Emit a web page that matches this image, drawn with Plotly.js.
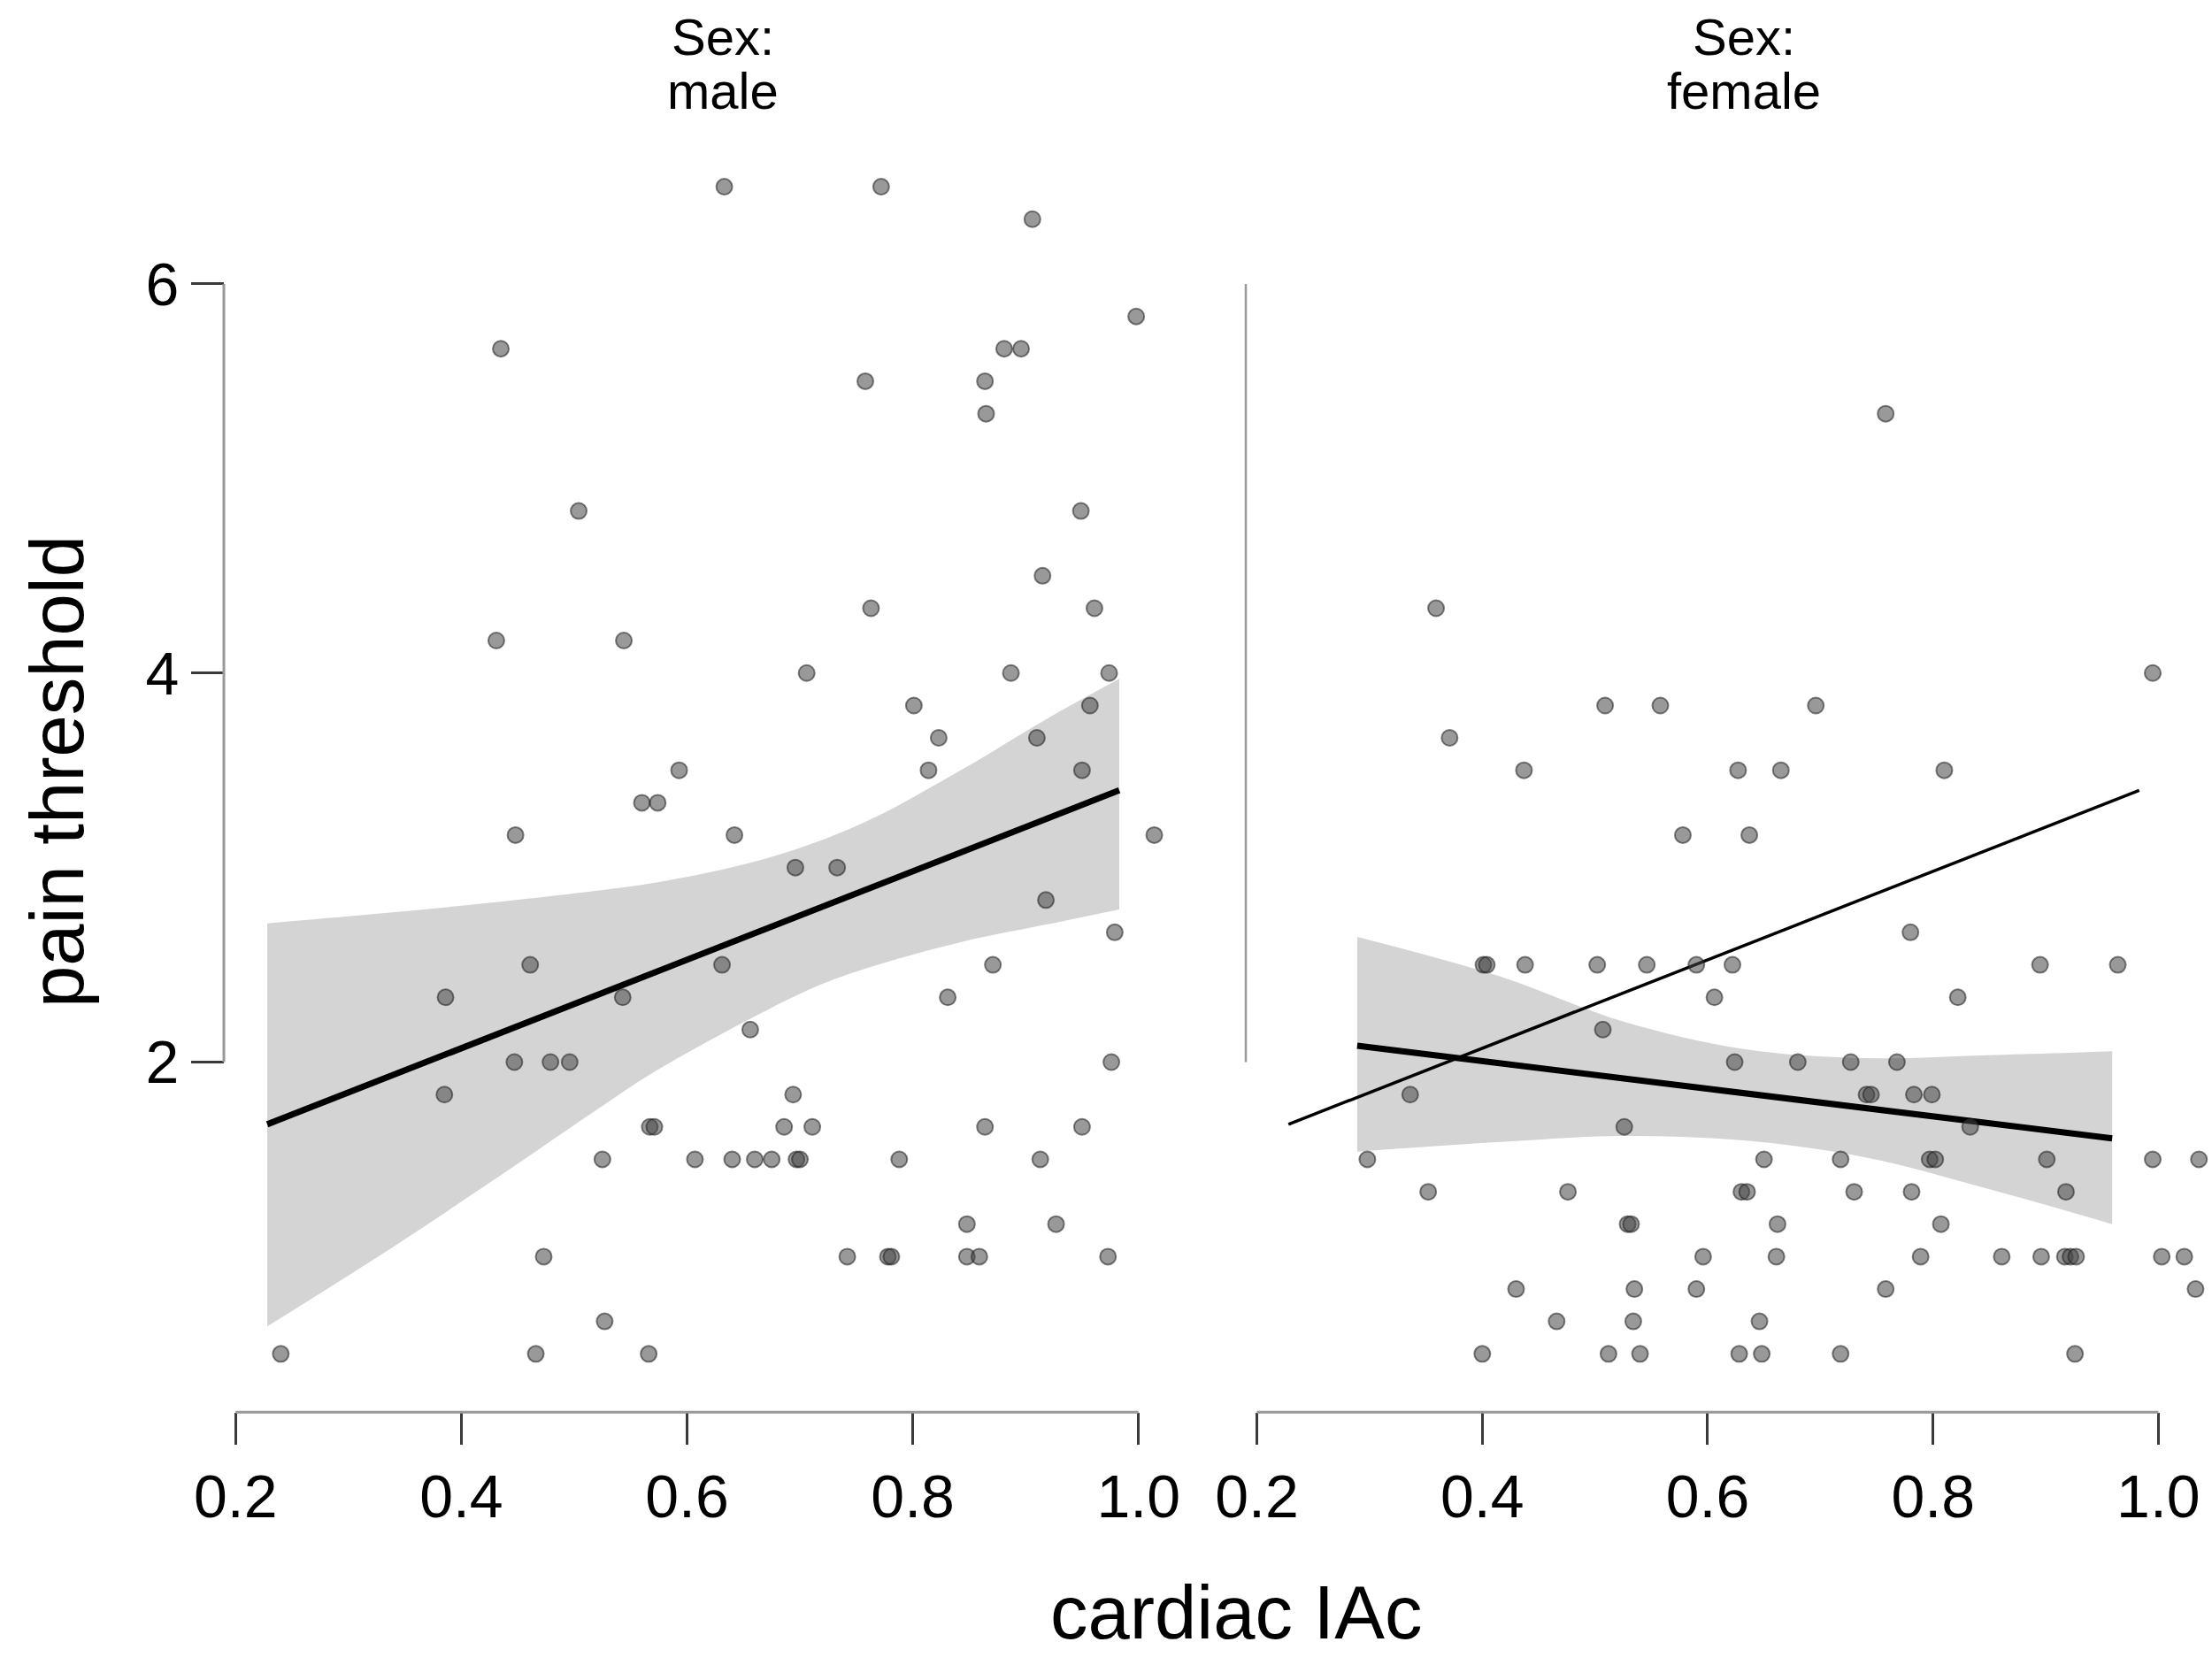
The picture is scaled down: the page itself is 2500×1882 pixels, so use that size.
<!DOCTYPE html>
<html>
<head>
<meta charset="utf-8">
<script src="https://cdn.plot.ly/plotly-3.0.1.min.js"></script>
<style>
    html, body { margin: 0; padding: 0; background: #ffffff; }
    #chart { width: 2500px; height: 1882px; }
</style>
</head>
<body>
<div id="chart"></div>
<script>
// Axis ticks
const xTicks = [0.2, 0.4, 0.6, 0.8, 1.0];
const xTickText = ['0.2', '0.4', '0.6', '0.8', '1.0'];
const yTicks = [2, 4, 6];
const yTickText = ['2', '4', '6'];

// Facet labels and axis titles
const panelPrefix = 'Sex:';
const panelNames = ['male', 'female'];
const xTitle = 'cardiac IAc';
const yTitle = 'pain threshold';

// Male observations
const maleX = [0.240, 0.386, 0.385, 0.435, 0.431, 0.448, 0.447, 0.461, 0.473, 0.466,
    0.479, 0.496, 0.504, 0.544, 0.543, 0.525, 0.527, 0.560, 0.574, 0.567,
    0.571, 0.566, 0.593, 0.607, 0.633, 0.631, 0.640, 0.642, 0.656, 0.660,
    0.675, 0.696, 0.694, 0.686, 0.697, 0.700, 0.706, 0.711, 0.733, 0.742,
    0.758, 0.763, 0.772, 0.778, 0.781, 0.788, 0.801, 0.814, 0.823, 0.831,
    0.848, 0.848, 0.859, 0.864, 0.865, 0.864, 0.871, 0.881, 0.896, 0.887,
    0.906, 0.910, 0.915, 0.913, 0.918, 0.927, 0.949, 0.950, 0.950, 0.957,
    0.961, 0.974, 0.976, 0.973, 0.979, 0.998, 1.014];
const maleY = [0.5, 2.333, 1.833, 5.667, 4.167, 3.167, 2.0, 2.5, 1.0, 0.5,
    2.0, 2.0, 4.833, 4.167, 2.333, 1.5, 0.667, 3.333, 3.333, 1.667,
    1.667, 0.5, 3.5, 1.5, 6.5, 2.5, 1.5, 3.167, 2.167, 1.5,
    1.5, 3.0, 1.833, 1.667, 1.5, 1.5, 4.0, 1.667, 3.0, 1.0,
    5.5, 4.333, 6.5, 1.0, 1.0, 1.5, 3.833, 3.5, 3.667, 2.333,
    1.167, 1.0, 1.0, 5.5, 5.333, 1.667, 2.5, 5.667, 5.667, 4.0,
    6.333, 3.667, 4.5, 1.5, 2.833, 1.167, 4.833, 3.5, 1.667, 3.833,
    4.333, 4.0, 2.0, 1.0, 2.667, 5.833, 3.167];

// Female observations
const femaleX = [0.298, 0.336, 0.352, 0.359, 0.371, 0.400, 0.401, 0.404, 0.430, 0.437,
    0.438, 0.466, 0.476, 0.502, 0.507, 0.509, 0.512, 0.526, 0.529, 0.532,
    0.535, 0.534, 0.540, 0.546, 0.558, 0.578, 0.590, 0.590, 0.596, 0.606,
    0.622, 0.624, 0.627, 0.628, 0.630, 0.635, 0.637, 0.646, 0.648, 0.650,
    0.661, 0.662, 0.665, 0.680, 0.696, 0.718, 0.718, 0.727, 0.730, 0.741,
    0.745, 0.758, 0.758, 0.768, 0.780, 0.781, 0.783, 0.789, 0.797, 0.799,
    0.802, 0.807, 0.810, 0.822, 0.833, 0.861, 0.895, 0.896, 0.901, 0.918,
    0.917, 0.922, 0.927, 0.926, 0.964, 0.995, 0.995, 1.003, 1.023, 1.033,
    1.036];
const femaleY = [1.5, 1.833, 1.333, 4.333, 3.667, 0.5, 2.5, 2.5, 0.833, 3.5,
    2.5, 0.667, 1.333, 2.5, 2.167, 3.833, 0.5, 1.667, 1.167, 1.167,
    0.833, 0.667, 0.5, 2.5, 3.833, 3.167, 2.5, 0.833, 1.0, 2.333,
    2.5, 2.0, 3.5, 0.5, 1.333, 1.333, 3.167, 0.667, 0.5, 1.5,
    1.0, 1.167, 3.5, 2.0, 3.833, 0.5, 1.5, 2.0, 1.333, 1.833,
    1.833, 0.833, 5.333, 2.0, 2.667, 1.333, 1.833, 1.0, 1.5, 1.833,
    1.5, 1.167, 3.5, 2.333, 1.667, 1.0, 2.5, 1.0, 1.5, 1.333,
    1.0, 1.0, 1.0, 0.5, 2.5, 4.0, 1.5, 1.0, 1.0, 0.833,
    1.5];

// Male regression line and 95% band
const maleFitX = [0.228, 0.983];
const maleFitY = [1.68, 3.397];
const maleBandX = [0.228, 0.319, 0.419, 0.519, 0.569, 0.619, 0.669, 0.719, 0.769, 0.844, 0.919, 0.983];
const maleBandUpper = [2.713, 2.759, 2.815, 2.88, 2.92, 2.975, 3.045, 3.14, 3.265, 3.505, 3.765, 3.97];
const maleBandLower = [0.641, 0.973, 1.356, 1.751, 1.943, 2.108, 2.262, 2.40, 2.50, 2.619, 2.708, 2.785];

// Female regression line and 95% band
const femaleFitX = [0.289, 0.959];
const femaleFitY = [2.084, 1.608];
const femaleBandX = [0.289, 0.416, 0.524, 0.632, 0.740, 0.848, 0.959];
const femaleBandUpper = [2.644, 2.44, 2.21, 2.067, 2.02, 2.035, 2.056];
const femaleBandLower = [1.54, 1.59, 1.62, 1.597, 1.51, 1.35, 1.167];

// Styling
const FONT = 'Liberation Sans, Arial, sans-serif';
const bandColor = '#d4d4d4';
const axisLineColor = '#999999';
const tickColor = '#3a3a3a';
const yDomain = [0.15181, 0.93459];
const leftDomain = [0.09632, 0.53508];
const rightDomain = [0.55804, 0.99868];
const leftAxisPos = 0.1012;
const rightAxisPos = 0.5632;
const panelCenters = [0.3268, 0.7884];

function bandTraces(xs, lower, upper, xa, ya) {
    return [
        {
            x: xs, y: lower, xaxis: xa, yaxis: ya, type: 'scatter', mode: 'lines',
            line: { width: 0, shape: 'spline', color: bandColor },
            hoverinfo: 'skip', showlegend: false
        },
        {
            x: xs, y: upper, xaxis: xa, yaxis: ya, type: 'scatter', mode: 'lines',
            line: { width: 0, shape: 'spline', color: bandColor },
            fill: 'tonexty', fillcolor: bandColor,
            hoverinfo: 'skip', showlegend: false
        }
    ];
}

function fitTrace(xs, ys, xa, ya, width) {
    return {
        x: xs, y: ys, xaxis: xa, yaxis: ya, type: 'scatter', mode: 'lines',
        line: { color: '#000000', width: width },
        hoverinfo: 'skip', showlegend: false
    };
}

function pointTrace(xs, ys, xa, ya) {
    return {
        x: xs, y: ys, xaxis: xa, yaxis: ya, type: 'scatter', mode: 'markers',
        marker: {
            size: 18,
            color: 'rgba(70,70,70,0.55)',
            line: { color: 'rgba(30,30,30,0.55)', width: 2 }
        },
        showlegend: false
    };
}

const traces = [
    ...bandTraces(maleBandX, maleBandLower, maleBandUpper, 'x', 'y'),
    fitTrace(maleFitX, maleFitY, 'x', 'y', 7),
    pointTrace(maleX, maleY, 'x', 'y'),
    ...bandTraces(femaleBandX, femaleBandLower, femaleBandUpper, 'x2', 'y2'),
    fitTrace(femaleFitX, femaleFitY, 'x2', 'y2', 7),
    fitTrace(maleFitX, maleFitY, 'x2', 'y2', 3.5),
    pointTrace(femaleX, femaleY, 'x2', 'y2')
];

const xAxisBase = {
    tickvals: xTicks,
    ticktext: xTickText,
    ticks: 'outside',
    ticklen: 36,
    tickwidth: 3,
    tickcolor: tickColor,
    showline: false,
    showgrid: false,
    zeroline: false,
    fixedrange: true,
    tickfont: { family: FONT, size: 68, color: '#000000' }
};

const yAxisBase = {
    domain: yDomain,
    range: [0.2, 6.9],
    tickvals: yTicks,
    ticktext: yTickText,
    showline: false,
    showgrid: false,
    zeroline: false,
    fixedrange: true
};

// R-style axis lines spanning first to last tick
const shapes = [
    { type: 'line', xref: 'x', yref: 'paper', x0: xTicks[0], x1: xTicks[xTicks.length - 1],
      y0: yDomain[0], y1: yDomain[0], line: { color: axisLineColor, width: 3 } },
    { type: 'line', xref: 'x2', yref: 'paper', x0: xTicks[0], x1: xTicks[xTicks.length - 1],
      y0: yDomain[0], y1: yDomain[0], line: { color: axisLineColor, width: 3 } },
    { type: 'line', xref: 'paper', yref: 'y', x0: leftAxisPos, x1: leftAxisPos,
      y0: yTicks[0], y1: yTicks[yTicks.length - 1], line: { color: axisLineColor, width: 3 } },
    { type: 'line', xref: 'paper', yref: 'y2', x0: rightAxisPos, x1: rightAxisPos,
      y0: yTicks[0], y1: yTicks[yTicks.length - 1], line: { color: axisLineColor, width: 2.5 } }
];

const titleFont = { family: FONT, size: 58, color: '#000000' };
const annotations = [];
panelNames.forEach((name, i) => {
    annotations.push({
        text: panelPrefix, xref: 'paper', yref: 'paper', x: panelCenters[i], y: 1 - 42 / 1882,
        xanchor: 'center', yanchor: 'middle', showarrow: false, font: titleFont
    });
    annotations.push({
        text: name, xref: 'paper', yref: 'paper', x: panelCenters[i], y: 1 - 103 / 1882,
        xanchor: 'center', yanchor: 'middle', showarrow: false, font: titleFont
    });
});
annotations.push(
    { text: xTitle, xref: 'paper', yref: 'paper', x: 0.5588, y: 1 - 1822 / 1882,
      xanchor: 'center', yanchor: 'middle', showarrow: false,
      font: { family: FONT, size: 85, color: '#000000' } },
    { text: yTitle, xref: 'paper', yref: 'paper', x: 64 / 2500, y: 1 - 872 / 1882,
      xanchor: 'center', yanchor: 'middle', showarrow: false, textangle: -90,
      font: { family: FONT, size: 85, color: '#000000' } }
);

const layout = {
    width: 2500,
    height: 1882,
    autosize: false,
    margin: { t: 0, r: 0, b: 0, l: 0 },
    paper_bgcolor: '#ffffff',
    plot_bgcolor: 'rgba(0,0,0,0)',
    showlegend: false,
    xaxis: { ...xAxisBase, domain: leftDomain, range: [0.18, 1.04], anchor: 'y' },
    xaxis2: { ...xAxisBase, domain: rightDomain, range: [0.18, 1.045], anchor: 'y2' },
    yaxis: {
        ...yAxisBase,
        anchor: 'free',
        position: leftAxisPos,
        ticks: 'outside',
        ticklen: 37,
        tickwidth: 3,
        tickcolor: tickColor,
        tickfont: { family: FONT, size: 68, color: '#000000' }
    },
    yaxis2: { ...yAxisBase, anchor: 'x2', ticks: '', showticklabels: false },
    shapes: shapes,
    annotations: annotations
};

Plotly.newPlot('chart', traces, layout, { displayModeBar: false, staticPlot: true });
</script>
</body>
</html>
